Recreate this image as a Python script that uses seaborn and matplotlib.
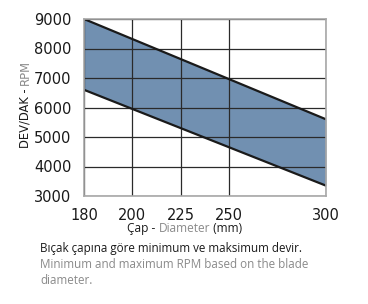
import numpy as np
import pandas as pd
import matplotlib
matplotlib.use("Agg")
import matplotlib.pyplot as plt
import seaborn as sns

# data
diameters = [180, 200, 225, 250, 300]
rpm_max = [9000, 8320, 7640, 6960, 5600]
rpm_min = [6600, 5950, 5300, 4650, 3350]
x_ticks = [180, 200, 225, 250, 300]
y_ticks = [3000, 4000, 5000, 6000, 7000, 8000, 9000]

df = pd.DataFrame({"d": diameters + diameters,
                   "rpm": rpm_max + rpm_min,
                   "kind": ["max"] * len(diameters) + ["min"] * len(diameters)})

sns.set_theme(style="white")
plt.rcParams['font.family'] = ['DejaVu Sans']

DARK = "#1a1a1a"
GRAY = "#8a8a8a"
FILL = "#7190b1"
FRAME = "#a8a8a8"

fig = plt.figure(figsize=(3.68, 3.04), dpi=100)
ax = fig.add_axes([84/368, 1 - 196/304, (326-84)/368, (196-19)/304])

def fwd(x):
    x = np.asarray(x, dtype=float)
    return np.where(x < 200, (x - 180) / 20.0, 1 + (x - 200) / 25.0)

def inv(p):
    p = np.asarray(p, dtype=float)
    return np.where(p < 1, 180 + p * 20.0, 200 + (p - 1) * 25.0)

ax.set_xscale("function", functions=(fwd, inv))

ax.fill_between(diameters, rpm_min, rpm_max, color=FILL, lw=0, zorder=1)
sns.lineplot(data=df, x="d", y="rpm", hue="kind", palette=[DARK, DARK],
             linewidth=1.6, legend=False, ax=ax, zorder=3)

ax.set_xlim(180, 300)
ax.set_ylim(3000, 9000)
ax.set_xticks(x_ticks)
ax.set_xticklabels([str(t) for t in x_ticks])
ax.set_yticks(y_ticks)
ax.set_yticklabels([str(t) for t in y_ticks])
ax.minorticks_off()

ax.grid(True, color="#2a2a2a", linewidth=0.9, zorder=2)
ax.set_axisbelow(False)
for s in ax.spines.values():
    s.set_color(FRAME)
    s.set_linewidth(1.2)
    s.set_zorder(4)
ax.tick_params(axis="both", which="both", length=8, width=1.2, color=FRAME,
               labelsize=10.5, labelcolor=DARK, pad=1, direction="out")
ax.set_xlabel("")
ax.set_ylabel("")

fig.canvas.draw()
r = fig.canvas.get_renderer()
LF = "Open Sans"

def text_len(txt, size, fam):
    t = fig.text(0, 0, txt, fontsize=size, family=fam)
    w = t.get_window_extent(r).width
    t.remove()
    return w

def hpieces(x0, y, pieces, size, fam):
    x = x0
    for txt, col in pieces:
        fig.text(x / 368, 1 - y / 304, txt, color=col, fontsize=size,
                 family=fam, ha="left", va="baseline")
        x += text_len(txt, size, fam)

def vpieces(x, y0, pieces, size, fam):
    y = y0
    for txt, col in pieces:
        fig.text(x / 368, 1 - y / 304, txt, color=col, fontsize=size,
                 family=fam, rotation=90, ha="left", va="baseline",
                 rotation_mode="anchor")
        y -= text_len(txt, size, fam)

hpieces(127, 232, [("Çap - ", DARK), ("Diameter", GRAY), (" (mm)", DARK)], 8.6, LF)
vpieces(29, 148, [("DEV/DAK - ", DARK), ("RPM", GRAY)], 8.3, "DejaVu Sans")

fig.text(40 / 368, 1 - 252 / 304, "Bıçak çapına göre minimum ve maksimum devir.",
         color=DARK, fontsize=8.4, family=LF, ha="left", va="baseline")
fig.text(40 / 368, 1 - 268 / 304, "Minimum and maximum RPM based on the blade",
         color=GRAY, fontsize=8.4, family=LF, ha="left", va="baseline")
fig.text(40 / 368, 1 - 284 / 304, "diameter.",
         color=GRAY, fontsize=8.4, family=LF, ha="left", va="baseline")

fig.savefig("out.png", dpi=100)
